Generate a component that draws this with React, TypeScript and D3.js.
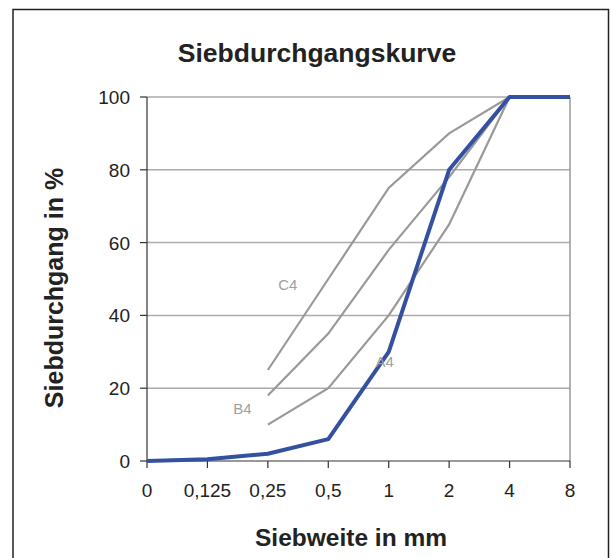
import React from "react";
import * as d3 from "d3";

const categories = ["0", "0,125", "0,25", "0,5", "1", "2", "4", "8"];
const yTicks = [0, 20, 40, 60, 80, 100];
const seriesA4: (number | null)[] = [0, 0.5, 2, 6, 30, 80, 100, 100];
const limitA: (number | null)[] = [null, null, 10, 20, 40, 65, 100, null];
const limitB: (number | null)[] = [null, null, 18, 35, 58, 78, 100, null];
const limitC: (number | null)[] = [null, null, 25, 50, 75, 90, 100, null];
const curveLabels = [
  { name: "C4", cat: "0,25", value: 48 },
  { name: "B4", cat: "0,125", value: 14 },
  { name: "A4", cat: "1", value: 27 },
];

export default function App() {
  const W = 611, H = 558;
  const x = d3.scalePoint<string>().domain(categories).range([147, 570]);
  const y = d3.scaleLinear().domain([0, 100]).range([461, 97]);
  const line = d3
    .line<number | null>()
    .defined((d) => d !== null)
    .x((_, i) => x(categories[i]) as number)
    .y((d) => y(d as number));
  const font = "Arial, 'Liberation Sans', sans-serif";
  const labelOffsets: Record<string, number> = { C4: 20, B4: 35, A4: -4 };
  return (
    <svg width={W} height={H} style={{ position: "absolute", left: 0, top: 0 }} fontFamily={font}>
      <rect x={0} y={0} width={W} height={H} fill="#fff" />
      <rect x={13} y={9.5} width={595.5} height={560} fill="none" stroke="#222" strokeWidth={1.5} />
      <text x={317} y={62} textAnchor="middle" fontSize={26.5} fontWeight="bold" fill="#222">
        Siebdurchgangskurve
      </text>
      {yTicks.filter((t) => t > 0).map((t) => (
        <line key={t} x1={147} x2={570} y1={y(t)} y2={y(t)} stroke="#ababab" strokeWidth={1.5} />
      ))}
      <line x1={570} x2={570} y1={y(100)} y2={y(0)} stroke="#999" strokeWidth={1.5} />
      <line x1={147} x2={147} y1={y(100)} y2={y(0)} stroke="#333" strokeWidth={1.2} />
      <line x1={147} x2={570} y1={y(0)} y2={y(0)} stroke="#333" strokeWidth={1.2} />
      {yTicks.map((t) => (
        <g key={t}>
          <line x1={140} x2={147} y1={y(t)} y2={y(t)} stroke="#333" strokeWidth={1.2} />
          <text x={130} y={y(t) + 7} textAnchor="end" fontSize={19} fill="#222">{t}</text>
        </g>
      ))}
      {categories.map((c) => (
        <g key={c}>
          <line x1={x(c)} x2={x(c)} y1={461} y2={468} stroke="#333" strokeWidth={1.2} />
          <text x={x(c)} y={497} textAnchor="middle" fontSize={19} fill="#222">{c}</text>
        </g>
      ))}
      {[limitA, limitB, limitC].map((s, i) => (
        <path key={i} d={line(s) || ""} fill="none" stroke="#999" strokeWidth={2.2} />
      ))}
      <path d={line(seriesA4) || ""} fill="none" stroke="#3450a0" strokeWidth={4} strokeLinejoin="round" />
      {curveLabels.map((l) => (
        <text key={l.name} x={(x(l.cat) as number) + labelOffsets[l.name]} y={y(l.value) + 4}
          fontSize={15} fill="#a0a0a0" textAnchor="middle">{l.name}</text>
      ))}
      <text transform={`translate(63,288) rotate(-90)`} textAnchor="middle" fontSize={25} fontWeight="bold" fill="#222">
        Siebdurchgang in %
      </text>
      <text x={351} y={546} textAnchor="middle" fontSize={24.5} fontWeight="bold" fill="#222">
        Siebweite in mm
      </text>
    </svg>
  );
}
